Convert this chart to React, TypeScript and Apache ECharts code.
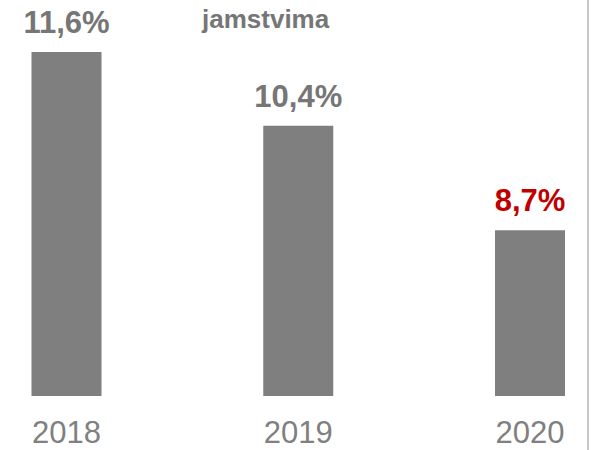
import React, { useEffect, useRef } from "react";
import * as echarts from "echarts";

const categories = ["2018", "2019", "2020"];
const values = [11.6, 10.4, 8.7];
const labelColors = ["#767676", "#767676", "#c00000"];
const titleText = "jamstvima";

export default function App() {
  const ref = useRef<HTMLDivElement>(null);
  useEffect(() => {
    document.body.style.margin = "0";
    const chart = echarts.init(ref.current!, null, { renderer: "svg" });
    const font = "'Liberation Sans', Arial, sans-serif";
    chart.setOption({
      animation: false,
      backgroundColor: "#ffffff",
      grid: { left: 66.5, right: 63, top: 27.4, bottom: 54, containLabel: false },
      xAxis: {
        type: "category",
        data: categories,
        boundaryGap: false,
        axisLine: { show: false },
        axisTick: { show: false },
        axisLabel: { color: "#808080", fontSize: 31, fontFamily: font, margin: 21 },
      },
      yAxis: { type: "value", min: 6, max: 12, show: false, splitLine: { show: false } },
      series: [
        {
          type: "bar",
          barWidth: 70,
          data: values.map((v, i) => ({
            value: v,
            label: { color: labelColors[i] },
          })),
          itemStyle: { color: "#7f7f7f" },
          label: {
            show: true,
            position: "top",
            distance: 14,
            fontSize: 31,
            fontWeight: "bold",
            fontFamily: font,
            formatter: (p: any) => p.value.toFixed(1).replace(".", ",") + "%",
          },
        },
      ],
      graphic: [
        {
          type: "text",
          left: 202,
          top: 6,
          style: { text: titleText, fill: "#767676", font: `bold 26px ${font}` },
        },
        {
          type: "line",
          shape: { x1: 588, y1: 0, x2: 588, y2: 450 },
          style: { stroke: "#c8c8c8", lineWidth: 2 },
        },
      ],
    });
    return () => chart.dispose();
  }, []);
  return <div ref={ref} style={{ width: 593, height: 450, position: "fixed", left: 0, top: 0 }} />;
}
